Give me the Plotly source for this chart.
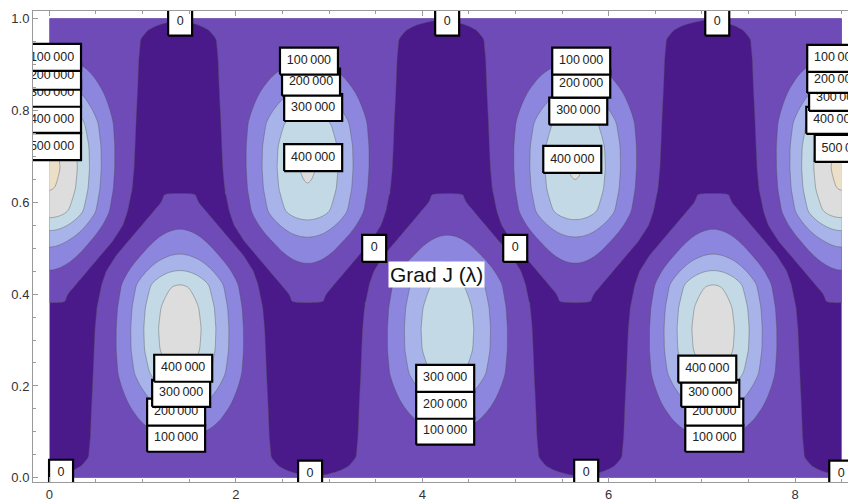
import numpy as np
import plotly.graph_objects as go

# ---------------- data ----------------
contour_start, contour_end, contour_step = 0, 500000, 100000
band_colors = ["#4a1a8b", "#6e4bb7", "#8c86de", "#a8b3e9", "#c3d9e5", "#dddddd", "#ebe0c7"]

upper_peak_x = [0.0, 2.77, 5.64, 8.5]
upper_peak_value = [520000, 409000, 407000, 520000]
lower_peak_x = [1.40, 4.27, 7.12]
lower_peak_value = [465000, 378000, 465000]

# profile of a row of maxima; t = distance from that row's own edge (y for lower row, 1-y for upper row)
profile_t = [0.0, 0.012, 0.025, 0.045, 0.09, 0.143, 0.187, 0.228, 0.28, 0.325, 0.37,
             0.42, 0.45, 0.485, 0.54, 0.6, 0.65, 0.75, 1.0]
profile_center = [0.14, 0.145, 0.15, 0.165, 0.217, 0.435, 0.65, 0.87, 0.98, 1.0, 0.97,
                  0.87, 0.65, 0.435, 0.217, 0.03, -0.05, -0.2, -0.3]
profile_zero_halfwidth = [1.5, 1.2, 1.06, 0.98, 0.96, 0.95, 0.94, 0.93, 0.92, 0.91, 0.89,
                          0.84, 0.79, 0.68, 0.45, 0.2, 0.1, 0.1, 0.1]
bump_sigma = 0.45

x_extent = [0.0, 8.5]
y_extent = [0.0, 1.0]

x_tick_values = [0, 2, 4, 6, 8]
y_tick_values = [0.0, 0.2, 0.4, 0.6, 0.8, 1.0]
y_tick_labels = ["0.0", "0.2", "0.4", "0.6", "0.8", "1.0"]

label_text = ["0", "0", "0",
              "0", "0", "0", "0",
              "0", "0",
              "100000", "200000", "300000", "400000", "500000",
              "100000", "200000", "300000", "400000",
              "100000", "200000", "300000", "400000",
              "100000", "200000", "300000", "400000", "500000",
              "400000", "300000", "200000", "100000",
              "300000", "200000", "100000",
              "400000", "300000", "200000", "100000"]
label_x = [1.403, 4.267, 7.164,
           0.126, 2.797, 5.758, 8.494,
           3.484, 4.997,
           0.029, 0.029, 0.029, 0.029, 0.029,
           2.785, 2.807, 2.83, 2.83,
           5.705, 5.705, 5.673, 5.609,
           8.44, 8.44, 8.46, 8.43, 8.52,
           1.436, 1.414, 1.36, 1.36,
           4.246, 4.246, 4.246,
           7.057, 7.089, 7.132, 7.132]
label_y = [0.992, 0.992, 0.992,
           0.010, 0.008, 0.010, 0.008,
           0.4996, 0.4996,
           0.915, 0.874, 0.837, 0.780, 0.721,
           0.907, 0.861, 0.806, 0.697,
           0.907, 0.857, 0.798, 0.693,
           0.913, 0.867, 0.828, 0.778, 0.717,
           0.2385, 0.184, 0.143, 0.0862,
           0.2167, 0.158, 0.1015,
           0.2367, 0.184, 0.143, 0.0862]

title_text = "Grad J (λ)"
title_pos = (4.149, 0.443)

# ---------------- field ----------------
xs = np.linspace(x_extent[0], x_extent[1], 426)
ys = np.linspace(y_extent[0], y_extent[1], 201)
X, Y = np.meshgrid(xs, ys)

tt = np.linspace(0, 1, 1001)


def smooth(v, n):
    k = np.ones(n) / n
    pad = np.pad(v, n // 2, mode="edge")
    return np.convolve(pad, k, mode="valid")


Cd = smooth(np.interp(tt, profile_t, profile_center), 15)
Wd = smooth(np.interp(tt, profile_t, profile_zero_halfwidth), 9)


def bump(px, amp, T):
    C = np.interp(T, tt, Cd)
    W = np.interp(T, tt, Wd)
    d = X - px
    psiW = 1 - np.exp(-W ** 2 / (2 * bump_sigma ** 2))
    G = np.where(C > 0, C / psiW, 0.0)
    psi = 1 - np.exp(-d ** 2 / (2 * bump_sigma ** 2))
    return amp * (C - G * psi)


fields = [bump(px, a, 1 - Y) for px, a in zip(upper_peak_x, upper_peak_value)]
fields += [bump(px, a, Y) for px, a in zip(lower_peak_x, lower_peak_value)]
Z = np.max(np.stack(fields), axis=0)

nb = len(band_colors) - 1
colorscale = [[i / nb, c] for i, c in enumerate(band_colors)]

fig = go.Figure()
fig.add_trace(go.Contour(
    x=xs, y=ys, z=Z, autocontour=False,
    contours=dict(start=contour_start, end=contour_end, size=contour_step,
                  coloring="fill", showlines=True),
    colorscale=colorscale, showscale=False,
    line=dict(color="rgba(80,80,80,0.5)", width=0.8, smoothing=1),
    hoverinfo="skip"))

# ---------------- layout ----------------
# the page adds an 8 px body margin, so the figure is 8 px smaller and margins shifted
W_px, H_px = 848, 494
m_l, m_r, m_t, m_b = 25, 3, 3, 20
x_range = [-0.175, 8.62]
y_range = [-0.009, 1.016]
px_per_x = (W_px - m_l - m_r) / (x_range[1] - x_range[0])
px_per_y = (H_px - m_t - m_b) / (y_range[1] - y_range[0])


def fmt(t):
    if t == "0":
        return t
    return t[:-3] + "\u2009" + t[-3:]


order = np.argsort(label_y, kind="stable")
for i in order:
    t = label_text[i]
    wpx = 24 if t == "0" else 58
    hpx = 27
    hx = wpx / 2 / px_per_x
    hy = hpx / 2 / px_per_y
    cx, cy = label_x[i], label_y[i]
    fig.add_trace(go.Scatter(
        x=[cx - hx, cx + hx, cx + hx, cx - hx, cx - hx],
        y=[cy - hy, cy - hy, cy + hy, cy + hy, cy - hy],
        mode="lines", fill="toself", fillcolor="white",
        line=dict(color="black", width=2.2), hoverinfo="skip", showlegend=False))
    fig.add_trace(go.Scatter(
        x=[cx], y=[cy], mode="text", text=[fmt(t)], textposition="middle center",
        textfont=dict(size=12.5, color="#222", family="Liberation Sans, Arial, sans-serif"),
        cliponaxis=True, hoverinfo="skip", showlegend=False))

fig.add_annotation(x=title_pos[0], y=title_pos[1], text=title_text, showarrow=False,
                   font=dict(size=21, color="#111", family="Liberation Sans, Arial, sans-serif"),
                   bgcolor="white", borderpad=1)

axis_common = dict(ticks="inside", tickcolor="#9a9a9a", showline=True, linecolor="#9a9a9a",
                   linewidth=1, mirror="allticks", showgrid=False, zeroline=False,
                   automargin=False,
                   tickfont=dict(size=13, color="#333", family="Liberation Sans, Arial, sans-serif"))

fig.update_layout(
    width=W_px, height=H_px,
    margin=dict(l=m_l, r=m_r, t=m_t, b=m_b, autoexpand=False),
    paper_bgcolor="white", plot_bgcolor="white", showlegend=False,
    xaxis=dict(range=x_range, tickvals=x_tick_values, ticklen=5,
               minor=dict(tick0=0, dtick=0.5, ticks="inside", ticklen=3, tickcolor="#9a9a9a"),
               **axis_common),
    yaxis=dict(range=y_range, tickvals=y_tick_values, ticktext=y_tick_labels, ticklen=5,
               minor=dict(tick0=0, dtick=0.05, ticks="inside", ticklen=3, tickcolor="#9a9a9a"),
               **axis_common),
)

fig.write_html("out.html")
